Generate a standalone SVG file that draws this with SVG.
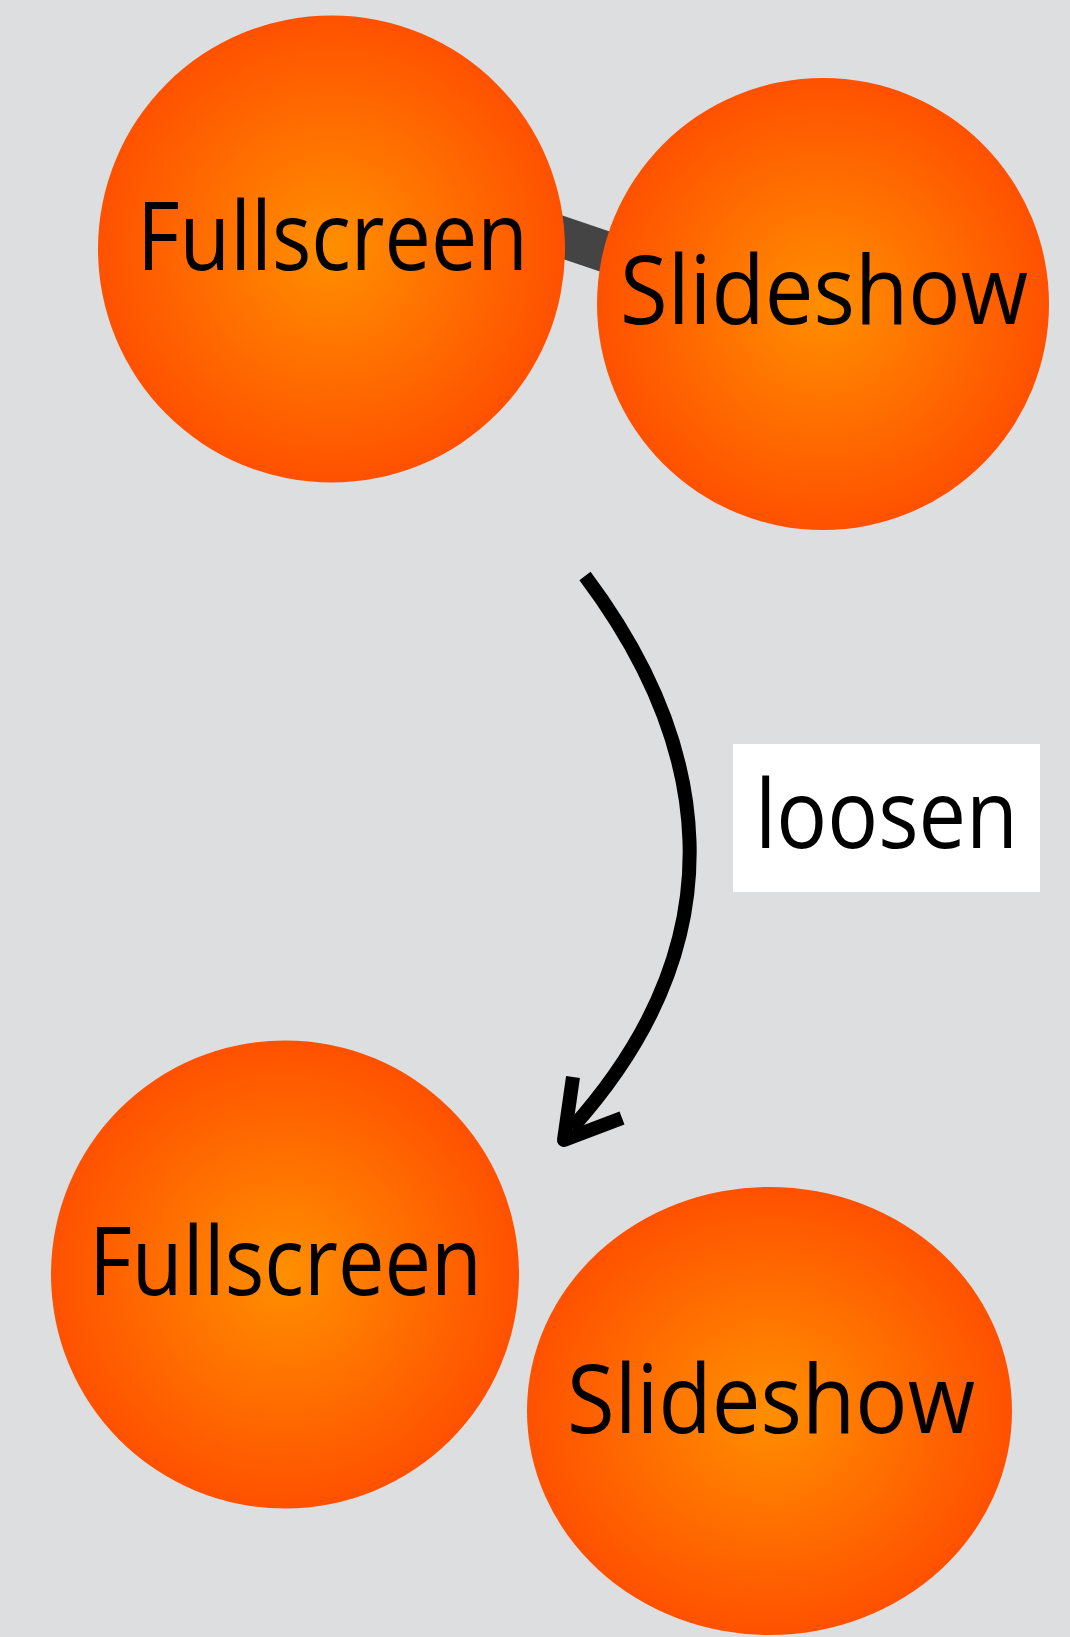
<svg xmlns="http://www.w3.org/2000/svg" width="1070" height="1637" viewBox="0 0 1070 1637">
<defs>
<radialGradient id="og" cx="50%" cy="50%" r="50%">
<stop offset="0" stop-color="#FF8F00"/>
<stop offset="1" stop-color="#FF5100"/>
</radialGradient>
<style>
.node{fill:url(#og);}
.lbl{font-family:"Open Sans","Noto Sans","Liberation Sans",sans-serif;font-size:96px;fill:#000;}
.edge{stroke:#444;stroke-width:41;fill:none;}
.arrow{stroke:#000;stroke-width:14;fill:none;}
</style>
</defs>
<rect width="1070" height="1637" fill="#DDDEE0"/>
<g id="connectors">
<line class="edge" x1="500" y1="216" x2="680" y2="277"/>
<path class="arrow" d="M585,576 C708,740 745,935 572,1128"/>
<polyline class="arrow" points="573,1077 564,1140 622,1118" stroke-linejoin="round" stroke-linecap="butt"/>
</g>
<g id="fullscreen-top">
<circle class="node" cx="331.5" cy="249" r="233.5"/>
<text class="lbl" x="137" y="270" textLength="391" lengthAdjust="spacingAndGlyphs">Fullscreen</text>
</g>
<g id="slideshow-top">
<circle class="node" cx="823" cy="304" r="226"/>
<text class="lbl" x="620" y="324" textLength="408" lengthAdjust="spacingAndGlyphs">Slideshow</text>
</g>
<g id="loosen-label">
<rect x="733" y="744" width="307" height="148" fill="#FFFFFF"/>
<text class="lbl" x="755" y="848" textLength="263" lengthAdjust="spacingAndGlyphs">loosen</text>
</g>
<g id="fullscreen-bottom">
<circle class="node" cx="285" cy="1274.5" r="234"/>
<text class="lbl" x="89" y="1295" textLength="393" lengthAdjust="spacingAndGlyphs">Fullscreen</text>
</g>
<g id="slideshow-bottom">
<ellipse class="node" cx="769.5" cy="1411" rx="242.5" ry="224"/>
<text class="lbl" x="567" y="1433" textLength="408" lengthAdjust="spacingAndGlyphs">Slideshow</text>
</g>
</svg>
